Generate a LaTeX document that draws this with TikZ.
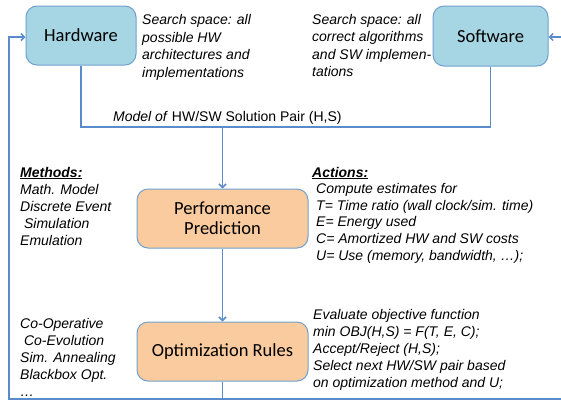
\documentclass[tikz,border=0pt]{standalone}
\usepackage{fontspec}
\setmainfont{Liberation Sans}[
  BoldFont={Liberation Sans Bold},
  ItalicFont={Liberation Sans Italic},
  BoldItalicFont={Liberation Sans Bold Italic}]
\newfontfamily\carlitofont{Carlito}
\usetikzlibrary{arrows.meta}
\definecolor{bluefill}{RGB}{166,214,228}
\definecolor{orangefill}{RGB}{250,203,158}
\definecolor{boxedge}{RGB}{112,160,206}
\definecolor{linecol}{RGB}{90,140,204}
\newcommand{\blocklines}[1]{\begin{tabular}[t]{@{}l@{}}#1\end{tabular}}
\begin{document}
\begin{tikzpicture}[x=1pt,y=-1pt,
  box/.style={draw=boxedge, line width=1pt, rounded corners=11pt, inner sep=2pt,
    font=\carlitofont\fontsize{18.5}{20}\selectfont, align=center},
  hwsw/.style={box, fill=bluefill},
  stage/.style={box, fill=orangefill},
  note/.style={anchor=base west, inner sep=0pt, font=\fontsize{14}{17}\selectfont\itshape},
  topnote/.style={note, font=\fontsize{14}{17.5}\selectfont\itshape},
  actnote/.style={note, font=\fontsize{14}{16.6}\selectfont\itshape},
  conn/.style={draw=linecol, line width=1.5pt},
  arr/.style={conn, -{Straight Barb[length=3.5pt,width=7pt]}}
]
\useasboundingbox (0,0) rectangle (561,400);

% boxes
\node[hwsw, minimum width=110pt, minimum height=59pt] (hw) at (81,35.5) {Hardware};
\node[hwsw, minimum width=115pt, minimum height=60pt] (sw) at (490.5,36) {Software};
\node[stage, minimum width=171pt, minimum height=59pt] (perf) at (222.5,218.5) {Performance\\Prediction};
\node[stage, minimum width=171pt, minimum height=59pt] (opt) at (222.5,351.5) {Optimization Rules};

% coordinates
\coordinate (bus) at (222.5,127);
\coordinate (botL) at (9,399);
\coordinate (botR) at (561,399);
\coordinate (loopL) at (9,37);
\coordinate (edgeR) at (561,37);

% connectors
\draw[conn] (hw.south) |- (bus) -| (sw.south);
\draw[arr] (bus) -- (perf.north);
\draw[arr] (perf.south) -- (opt.north);
\draw[conn] (opt.south) -- (opt.south |- botL);
\draw[arr] (botR) -- (botL) -- (loopL) -- (loopL -| hw.west);
\draw[arr] (edgeR) -- (edgeR -| sw.east);

% texts
\node[topnote] (hwnote) at (142,24.5) {\blocklines{Search space: all\\possible HW\\architectures and\\implementations}};
\node[topnote] (swnote) at (312,24) {\blocklines{Search space: all\\correct algorithms\\and SW implemen-\\tations}};
\node[anchor=base west, inner sep=0pt, font=\fontsize{14}{17}\selectfont] (model) at (113,121.5) {\textit{Model of} HW/SW Solution Pair (H,S)};
\node[note] (methods) at (20,177) {\blocklines{\underline{\textbf{Methods:}}\\Math. Model\\Discrete Event\\\hspace*{3.9pt}Simulation\\Emulation}};
\node[actnote] (actions) at (312,177) {\blocklines{\underline{\textbf{Actions:}}\\\hspace*{4pt}Compute estimates for\\\hspace*{4pt}T= Time ratio (wall clock/sim. time)\\\hspace*{4pt}E= Energy used\\\hspace*{4pt}C= Amortized HW and SW costs\\\hspace*{4pt}U= Use (memory, bandwidth, …);}};
\node[note] (coop) at (20,328) {\blocklines{Co-Operative\\\hspace*{3.9pt}Co-Evolution\\Sim. Annealing\\Blackbox Opt.\\…}};
\node[note] (eval) at (313,319) {\blocklines{Evaluate objective function\\min OBJ(H,S) = F(T, E, C);\\Accept/Reject (H,S);\\Select next HW/SW pair based\\on optimization method and U;}};
\end{tikzpicture}
\end{document}
